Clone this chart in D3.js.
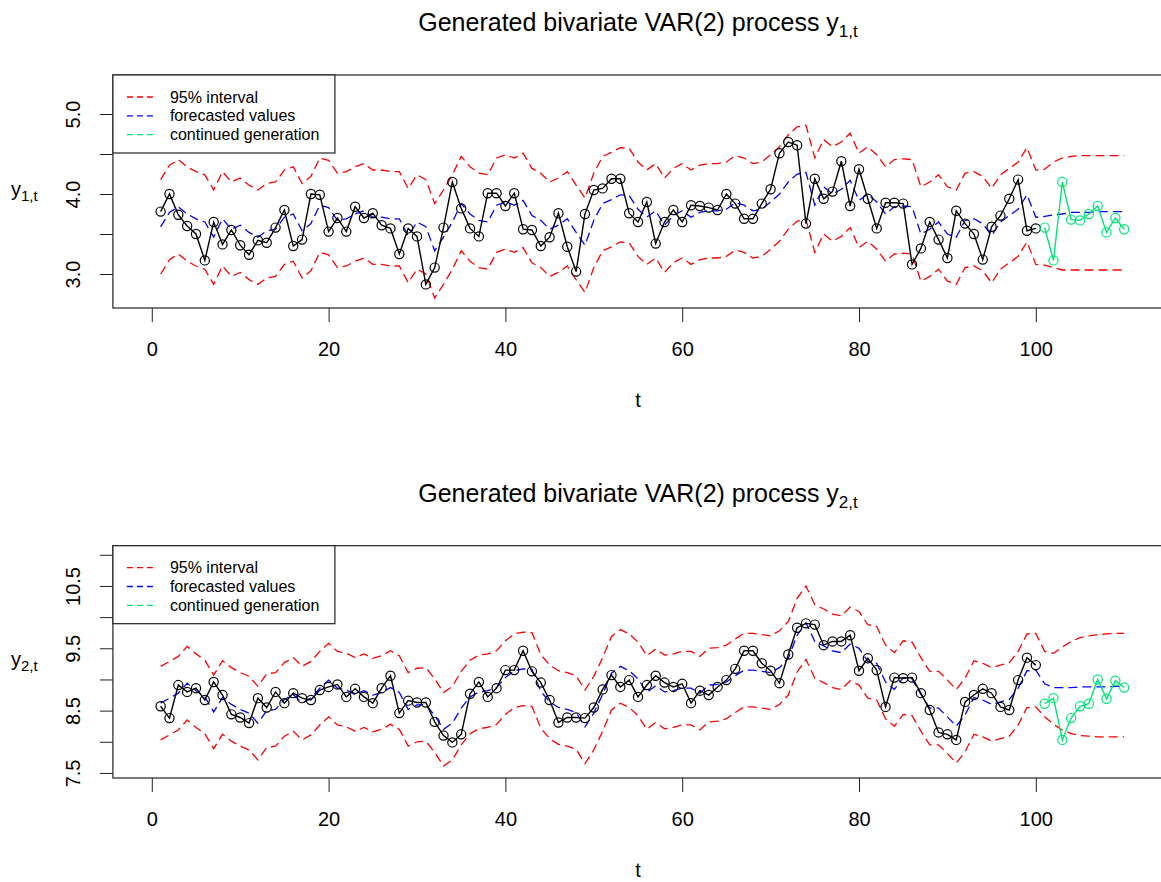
<!DOCTYPE html>
<html>
<head>
<meta charset="utf-8">
<script src="https://cdn.jsdelivr.net/npm/d3@7/dist/d3.min.js"></script>
<style>
	body { margin: 0; background: #fff; }
	svg { display: block; font-family: "Liberation Sans", Arial, sans-serif; }
</style>
</head>
<body>
<svg id="chart" width="1161" height="882"></svg>
<script>
// observed series y1 (t = 1..100) and the continued generation (t = 101..110)
const y1Obs = [
	3.78, 4.00, 3.74, 3.60, 3.50, 3.17, 3.65, 3.37, 3.55, 3.36,
	3.24, 3.42, 3.39, 3.58, 3.80, 3.35, 3.43, 4.00, 3.99, 3.53,
	3.70, 3.53, 3.84, 3.70, 3.76, 3.61, 3.57, 3.25, 3.57, 3.47,
	2.87, 3.08, 3.58, 4.15, 3.82, 3.57, 3.47, 4.01, 4.01, 3.85,
	4.01, 3.56, 3.55, 3.35, 3.46, 3.76, 3.34, 3.03, 3.75, 4.05,
	4.07, 4.19, 4.19, 3.76, 3.65, 3.90, 3.38, 3.65, 3.80, 3.65,
	3.86, 3.85, 3.83, 3.80, 4.00, 3.88, 3.69, 3.69, 3.88, 4.06,
	4.51, 4.65, 4.61, 3.63, 4.19, 3.94, 4.03, 4.41, 3.85, 4.31,
	3.94, 3.57, 3.89, 3.89, 3.88, 3.12, 3.32, 3.65, 3.43, 3.20,
	3.79, 3.63, 3.50, 3.18, 3.59, 3.73, 3.94, 4.18, 3.54, 3.57,
];
const y1New = [3.58, 3.17, 4.15, 3.68, 3.67, 3.75, 3.85, 3.52, 3.70, 3.56];

// fitted / forecasted values and 95% interval for y1 (t = 1..110)
const y1Fcst = [
	3.59, 3.77, 3.84, 3.75, 3.69, 3.65, 3.46, 3.69, 3.56, 3.61,
	3.52, 3.46, 3.54, 3.56, 3.71, 3.75, 3.54, 3.63, 3.86, 3.83,
	3.67, 3.69, 3.75, 3.79, 3.71, 3.71, 3.69, 3.69, 3.48, 3.65,
	3.59, 3.29, 3.46, 3.65, 3.88, 3.75, 3.67, 3.65, 3.86, 3.90,
	3.86, 3.92, 3.73, 3.67, 3.56, 3.61, 3.69, 3.52, 3.36, 3.67,
	3.88, 3.93, 3.99, 3.98, 3.81, 3.71, 3.79, 3.61, 3.73, 3.79,
	3.71, 3.77, 3.79, 3.79, 3.81, 3.89, 3.86, 3.79, 3.81, 3.90,
	4.00, 4.15, 4.25, 4.27, 3.86, 4.09, 4.00, 4.06, 4.17, 3.92,
	4.00, 3.90, 3.75, 3.84, 3.85, 3.84, 3.50, 3.56, 3.65, 3.50,
	3.46, 3.67, 3.69, 3.63, 3.48, 3.65, 3.73, 3.81, 3.99, 3.71,
	3.72, 3.74, 3.75, 3.77, 3.77, 3.77, 3.78, 3.78, 3.78, 3.78,
];
const y1Upper = [
	4.18, 4.36, 4.43, 4.34, 4.28, 4.24, 4.05, 4.28, 4.15, 4.20,
	4.11, 4.05, 4.13, 4.15, 4.30, 4.34, 4.13, 4.22, 4.45, 4.42,
	4.26, 4.28, 4.34, 4.38, 4.30, 4.30, 4.28, 4.28, 4.07, 4.24,
	4.18, 3.88, 4.05, 4.24, 4.47, 4.34, 4.26, 4.24, 4.45, 4.49,
	4.45, 4.51, 4.32, 4.26, 4.15, 4.20, 4.28, 4.11, 3.95, 4.26,
	4.47, 4.52, 4.58, 4.57, 4.40, 4.30, 4.38, 4.20, 4.32, 4.38,
	4.30, 4.36, 4.38, 4.38, 4.40, 4.48, 4.45, 4.38, 4.40, 4.49,
	4.59, 4.74, 4.84, 4.86, 4.45, 4.68, 4.59, 4.65, 4.76, 4.51,
	4.59, 4.49, 4.34, 4.43, 4.44, 4.43, 4.09, 4.15, 4.24, 4.09,
	4.05, 4.26, 4.28, 4.22, 4.07, 4.24, 4.32, 4.40, 4.58, 4.30,
	4.31, 4.40, 4.45, 4.47, 4.48, 4.48, 4.48, 4.48, 4.48, 4.48,
];
const y1Lower = [
	3.00, 3.18, 3.25, 3.16, 3.10, 3.06, 2.87, 3.10, 2.97, 3.02,
	2.93, 2.87, 2.95, 2.97, 3.12, 3.16, 2.95, 3.04, 3.27, 3.24,
	3.08, 3.10, 3.16, 3.20, 3.12, 3.12, 3.10, 3.10, 2.89, 3.06,
	3.00, 2.70, 2.87, 3.06, 3.29, 3.16, 3.08, 3.06, 3.27, 3.31,
	3.27, 3.33, 3.14, 3.08, 2.97, 3.02, 3.10, 2.93, 2.77, 3.08,
	3.29, 3.34, 3.40, 3.39, 3.22, 3.12, 3.20, 3.02, 3.14, 3.20,
	3.12, 3.18, 3.20, 3.20, 3.22, 3.30, 3.27, 3.20, 3.22, 3.31,
	3.41, 3.56, 3.66, 3.68, 3.27, 3.50, 3.41, 3.47, 3.58, 3.33,
	3.41, 3.31, 3.16, 3.25, 3.26, 3.25, 2.91, 2.97, 3.06, 2.91,
	2.87, 3.08, 3.10, 3.04, 2.89, 3.06, 3.14, 3.22, 3.40, 3.12,
	3.11, 3.08, 3.05, 3.05, 3.05, 3.05, 3.05, 3.05, 3.05, 3.05,
];

// observed series y2 and its continued generation
const y2Obs = [
	8.57, 8.38, 8.91, 8.80, 8.86, 8.67, 8.96, 8.75, 8.44, 8.39,
	8.30, 8.70, 8.55, 8.80, 8.62, 8.78, 8.70, 8.67, 8.83, 8.88,
	8.92, 8.72, 8.85, 8.72, 8.62, 8.86, 9.06, 8.46, 8.66, 8.63,
	8.63, 8.32, 8.10, 7.99, 8.12, 8.77, 8.96, 8.72, 8.86, 9.15,
	9.15, 9.46, 9.13, 8.95, 8.67, 8.31, 8.39, 8.39, 8.38, 8.55,
	8.84, 9.07, 8.88, 8.99, 8.72, 8.91, 9.06, 8.95, 8.88, 8.93,
	8.62, 8.82, 8.75, 8.88, 8.99, 9.17, 9.46, 9.46, 9.26, 9.14,
	8.94, 9.40, 9.83, 9.90, 9.88, 9.55, 9.61, 9.61, 9.71, 9.14,
	9.34, 9.15, 8.56, 9.03, 9.02, 9.03, 8.78, 8.51, 8.15, 8.12,
	8.03, 8.64, 8.75, 8.85, 8.78, 8.56, 8.51, 8.99, 9.35, 9.23,
];
const y2New = [8.61, 8.70, 8.03, 8.38, 8.57, 8.61, 9.00, 8.69, 8.98, 8.87];

const y2Fcst = [
	8.62, 8.70, 8.78, 8.94, 8.82, 8.72, 8.48, 8.71, 8.60, 8.52,
	8.46, 8.30, 8.50, 8.52, 8.68, 8.76, 8.62, 8.70, 8.86, 8.99,
	8.86, 8.83, 8.76, 8.82, 8.75, 8.79, 8.87, 8.79, 8.52, 8.59,
	8.60, 8.42, 8.20, 8.30, 8.54, 8.72, 8.80, 8.82, 8.87, 9.03,
	9.14, 9.17, 9.16, 8.81, 8.64, 8.55, 8.52, 8.47, 8.24, 8.46,
	8.76, 9.10, 9.21, 9.14, 9.01, 8.79, 8.90, 8.80, 8.82, 8.86,
	8.86, 8.78, 8.91, 8.92, 8.96, 9.06, 9.15, 9.15, 9.13, 9.11,
	9.19, 9.34, 9.71, 9.91, 9.61, 9.54, 9.46, 9.43, 9.57, 9.50,
	9.29, 9.26, 8.96, 8.84, 9.03, 9.01, 8.76, 8.54, 8.54, 8.40,
	8.25, 8.43, 8.71, 8.67, 8.60, 8.64, 8.68, 8.86, 9.14, 9.15,
	8.93, 8.87, 8.87, 8.87, 8.88, 8.88, 8.88, 8.88, 8.89, 8.89,
];
const y2Upper = [
	9.21, 9.29, 9.37, 9.53, 9.41, 9.31, 9.07, 9.30, 9.19, 9.11,
	9.05, 8.89, 9.09, 9.11, 9.27, 9.35, 9.21, 9.29, 9.45, 9.58,
	9.45, 9.42, 9.35, 9.41, 9.34, 9.38, 9.46, 9.38, 9.11, 9.18,
	9.19, 9.01, 8.79, 8.89, 9.13, 9.31, 9.39, 9.41, 9.46, 9.62,
	9.73, 9.76, 9.75, 9.40, 9.23, 9.14, 9.11, 9.06, 8.83, 9.05,
	9.35, 9.69, 9.80, 9.73, 9.60, 9.38, 9.49, 9.39, 9.41, 9.45,
	9.45, 9.37, 9.50, 9.51, 9.55, 9.65, 9.74, 9.74, 9.72, 9.70,
	9.78, 9.93, 10.30, 10.50, 10.20, 10.13, 10.05, 10.02, 10.16, 10.09,
	9.88, 9.85, 9.55, 9.43, 9.62, 9.60, 9.35, 9.13, 9.13, 8.99,
	8.84, 9.02, 9.30, 9.26, 9.19, 9.23, 9.27, 9.45, 9.73, 9.74,
	9.45, 9.42, 9.52, 9.61, 9.67, 9.70, 9.72, 9.73, 9.74, 9.74,
];
const y2Lower = [
	8.03, 8.11, 8.19, 8.35, 8.23, 8.13, 7.89, 8.12, 8.01, 7.93,
	7.87, 7.71, 7.91, 7.93, 8.09, 8.17, 8.03, 8.11, 8.27, 8.40,
	8.27, 8.24, 8.17, 8.23, 8.16, 8.20, 8.28, 8.20, 7.93, 8.00,
	8.01, 7.83, 7.61, 7.71, 7.95, 8.13, 8.21, 8.23, 8.28, 8.44,
	8.55, 8.58, 8.57, 8.22, 8.05, 7.96, 7.93, 7.88, 7.65, 7.87,
	8.17, 8.51, 8.62, 8.55, 8.42, 8.20, 8.31, 8.21, 8.23, 8.27,
	8.27, 8.19, 8.32, 8.33, 8.37, 8.47, 8.56, 8.56, 8.54, 8.52,
	8.60, 8.75, 9.12, 9.32, 9.02, 8.95, 8.87, 8.84, 8.98, 8.91,
	8.70, 8.67, 8.37, 8.25, 8.44, 8.42, 8.17, 7.95, 7.95, 7.81,
	7.66, 7.84, 8.12, 8.08, 8.01, 8.05, 8.09, 8.27, 8.55, 8.56,
	8.40, 8.28, 8.19, 8.13, 8.10, 8.09, 8.08, 8.08, 8.08, 8.08,
];

// axes
const xTicks = [0, 20, 40, 60, 80, 100];
const y1Ticks = [3.0, 3.5, 4.0, 4.5, 5.0];
const y1TickLabels = [3.0, 4.0, 5.0];
const y2Ticks = [7.5, 8.0, 8.5, 9.0, 9.5, 10.0, 10.5, 11.0];
const y2TickLabels = [7.5, 8.5, 9.5, 10.5];
const legendLabels = ["95% interval", "forecasted values", "continued generation"];

const COLORS = {
	band: "#ff0000",
	fcst: "#0000ff",
	obs: "#000000",
	gen: "#00e676",
};
const DASH = "9,5";

const svg = d3.select("#chart");

// shared x scale (t from 0 to 110, R style 4% padding)
const X_SCALE = d3.scaleLinear().domain([-4.4, 114.4]).range([112.9, 1163.1]);
const PLOT_LEFT = X_SCALE.range()[0];
const PLOT_RIGHT = X_SCALE.range()[1];
const CENTER = (PLOT_LEFT + PLOT_RIGHT) / 2;

function drawPanel(cfg) {
	const g = svg.append("g");
	const y = d3.scaleLinear().domain(cfg.yDomain).range([cfg.bottom, cfg.top]);

	const line = (offset) =>
		d3
			.line()
			.x((d, i) => X_SCALE(i + offset))
			.y((d) => y(d));

	// 95% interval
	[cfg.upper, cfg.lower].forEach((s) => {
		g.append("path")
			.attr("d", line(1)(s))
			.attr("fill", "none")
			.attr("stroke", COLORS.band)
			.attr("stroke-width", 1.3)
			.attr("stroke-dasharray", DASH);
	});

	// forecasted values
	g.append("path")
		.attr("d", line(1)(cfg.fcst))
		.attr("fill", "none")
		.attr("stroke", COLORS.fcst)
		.attr("stroke-width", 1.3)
		.attr("stroke-dasharray", DASH);

	// observed + continued generation
	const series = [
		{ data: cfg.obs, offset: 1, color: COLORS.obs },
		{ data: cfg.gen, offset: cfg.obs.length + 1, color: COLORS.gen },
	];
	series.forEach((s) => {
		g.append("path")
			.attr("d", line(s.offset)(s.data))
			.attr("fill", "none")
			.attr("stroke", s.color)
			.attr("stroke-width", 1.4);
		g.selectAll(null)
			.data(s.data)
			.enter()
			.append("circle")
			.attr("cx", (d, i) => X_SCALE(i + s.offset))
			.attr("cy", (d) => y(d))
			.attr("r", 4.6)
			.attr("fill", "none")
			.attr("stroke", s.color)
			.attr("stroke-width", 1.2);
	});

	// frame
	g.append("rect")
		.attr("x", PLOT_LEFT)
		.attr("y", cfg.top)
		.attr("width", PLOT_RIGHT - PLOT_LEFT)
		.attr("height", cfg.bottom - cfg.top)
		.attr("fill", "none")
		.attr("stroke", "#222")
		.attr("stroke-width", 1.2);

	// x axis
	const xAxis = g
		.append("g")
		.attr("transform", `translate(0, ${cfg.bottom})`)
		.call(d3.axisBottom(X_SCALE).tickValues(xTicks).tickSize(14).tickPadding(20));
	xAxis.select(".domain").remove();
	xAxis.selectAll("line").attr("stroke", "#222");
	xAxis.selectAll("text")
		.style("font-size", "20px")
		.style("font-family", "Liberation Sans, Arial, sans-serif")
		.attr("fill", "#000");

	// y axis, rotated labels
	const yAxis = g
		.append("g")
		.attr("transform", `translate(${PLOT_LEFT}, 0)`)
		.call(
			d3
				.axisLeft(y)
				.tickValues(cfg.yTicks)
				.tickSize(13)
				.tickFormat((d) => (cfg.yLabels.includes(d) ? d3.format(".1f")(d) : "")),
		);
	yAxis.select(".domain").remove();
	yAxis.selectAll("line").attr("stroke", "#222");
	yAxis.selectAll("text")
		.attr("x", null)
		.attr("dy", null)
		.attr("transform", "translate(-33, 0) rotate(-90)")
		.attr("text-anchor", "middle")
		.style("font-size", "20px")
		.style("font-family", "Liberation Sans, Arial, sans-serif")
		.attr("fill", "#000");

	// title
	const title = g
		.append("text")
		.attr("x", CENTER)
		.attr("y", cfg.top - 44)
		.attr("text-anchor", "middle")
		.style("font-size", "25px")
		.text("Generated bivariate VAR(2) process y");
	title.append("tspan").attr("dy", 6).style("font-size", "17px").text(cfg.sub);

	// x label
	g.append("text")
		.attr("x", CENTER)
		.attr("y", cfg.bottom + 99)
		.attr("text-anchor", "middle")
		.style("font-size", "20px")
		.text("t");

	// y label
	const yl = g
		.append("text")
		.attr("x", 11)
		.attr("y", (cfg.top + cfg.bottom) / 2 + 4)
		.style("font-size", "20px")
		.text("y");
	yl.append("tspan").attr("dy", 5).style("font-size", "15px").text(cfg.sub);

	// legend
	const lg = g.append("g").attr("transform", `translate(${PLOT_LEFT}, ${cfg.top})`);
	lg.append("rect")
		.attr("width", 222)
		.attr("height", 78)
		.attr("fill", "#fff")
		.attr("stroke", "#222")
		.attr("stroke-width", 1.2);
	const legendColors = [COLORS.band, COLORS.fcst, COLORS.gen];
	legendLabels.forEach((label, i) => {
		const ly = 22 + i * 18.8;
		lg.append("line")
			.attr("x1", 14)
			.attr("x2", 43)
			.attr("y1", ly)
			.attr("y2", ly)
			.attr("stroke", legendColors[i])
			.attr("stroke-width", 1.3)
			.attr("stroke-dasharray", "6,4");
		lg.append("text")
			.attr("x", 57)
			.attr("y", ly + 5.5)
			.style("font-size", "16px")
			.text(label);
	});
}

drawPanel({
	top: 75,
	bottom: 308,
	yDomain: [2.575, 5.4875],
	yTicks: y1Ticks,
	yLabels: y1TickLabels,
	obs: y1Obs,
	gen: y1New,
	fcst: y1Fcst,
	upper: y1Upper,
	lower: y1Lower,
	sub: "1,t",
});

drawPanel({
	top: 545.7,
	bottom: 778,
	yDomain: [7.419, 11.146],
	yTicks: y2Ticks,
	yLabels: y2TickLabels,
	obs: y2Obs,
	gen: y2New,
	fcst: y2Fcst,
	upper: y2Upper,
	lower: y2Lower,
	sub: "2,t",
});
</script>
</body>
</html>
